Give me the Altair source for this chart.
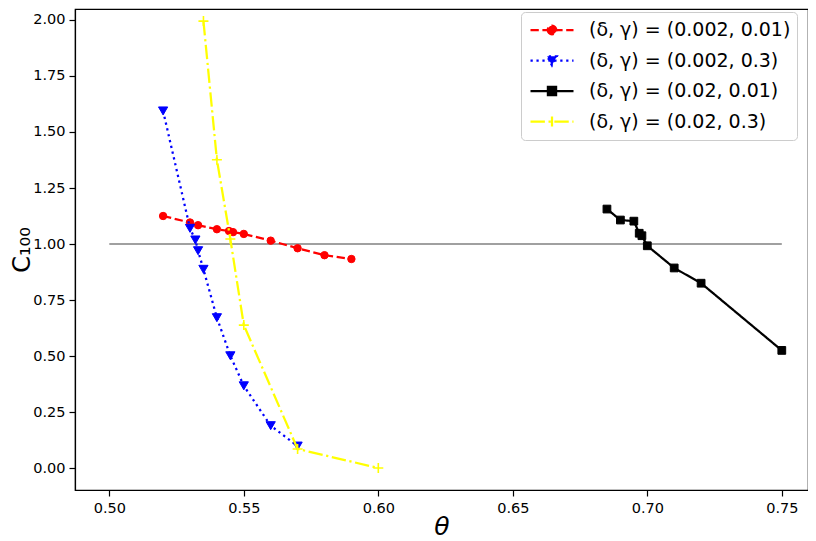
import altair as alt
import pandas as pd

# ---- data ----
labels = ["(δ, γ) = (0.002, 0.01)", "(δ, γ) = (0.002, 0.3)",
          "(δ, γ) = (0.02, 0.01)", "(δ, γ) = (0.02, 0.3)"]
colors = ["#ff0000", "#0000ff", "#000000", "#ffff00"]

red_theta = [0.52, 0.53, 0.533, 0.54, 0.5445, 0.546, 0.55, 0.56, 0.57, 0.58, 0.59]
red_c = [1.125, 1.096, 1.084, 1.066, 1.058, 1.053, 1.045, 1.015, 0.981, 0.950, 0.933]

blue_theta = [0.52, 0.53, 0.532, 0.533, 0.535, 0.54, 0.545, 0.55, 0.56, 0.57]
blue_c = [1.594, 1.070, 1.018, 0.970, 0.887, 0.671, 0.501, 0.367, 0.189, 0.098]

black_theta = [0.685, 0.69, 0.695, 0.697, 0.698, 0.70, 0.71, 0.72, 0.75]
black_c = [1.156, 1.107, 1.102, 1.048, 1.037, 0.992, 0.893, 0.825, 0.525]

yellow_theta = [0.535, 0.54, 0.545, 0.55, 0.57, 0.60]
yellow_c = [1.995, 1.376, 1.022, 0.638, 0.085, 0.0]

ref_theta = [0.50, 0.75]
ref_c = [1.0, 1.0]

x_ticks = [0.50, 0.55, 0.60, 0.65, 0.70, 0.75]
y_ticks = [0.0, 0.25, 0.5, 0.75, 1.0, 1.25, 1.5, 1.75, 2.0]

# ---- tables ----
series_data = [(red_theta, red_c), (blue_theta, blue_c),
               (black_theta, black_c), (yellow_theta, yellow_c)]
rows = []
for lab, (xs, ys) in zip(labels, series_data):
    for i, (xv, yv) in enumerate(zip(xs, ys)):
        rows.append({"series": lab, "theta": xv, "C": yv, "idx": i})
df = pd.DataFrame(rows)
ref_df = pd.DataFrame({"theta": ref_theta, "C": ref_c, "idx": [0, 1]})

# ---- styles ----
lw = 2.25
dashes = [[8.3, 3.6], [2.25, 3.7], [1, 0], [14.4, 3.6, 2.25, 3.6]]
plot_shapes = ["circle", "triangle-down", "square", "M-1,0H1M0,-1V1"]
plot_sizes = [55, 85, 60, 100]
plot_filled = [True, True, True, False]

legend_paths = [
    "M-1,0H1M-0.2,0A0.2,0.2 0 1,0 0.2,0A0.2,0.2 0 1,0 -0.2,0Z",
    "M-1,0H1M0,0.225L-0.225,-0.195L0.225,-0.195Z",
    "M-1,0H1M-0.19,-0.19H0.19V0.19H-0.19Z",
    "M-1,0H1M0,-0.23V0.23",
]

xdom = [0.48725, 0.75974]
ydom = [-0.0982, 2.0491]

xenc = alt.X("theta:Q", scale=alt.Scale(domain=xdom, nice=False, zero=False),
             axis=alt.Axis(values=x_ticks, format=".2f", title="θ",
                           titleFontStyle="italic", titleFontSize=25,
                           labelPadding=5, titlePadding=0))
yenc = alt.Y("C:Q", scale=alt.Scale(domain=ydom, nice=False, zero=False),
             axis=alt.Axis(values=y_ticks, format=".2f", title="C₁₀₀",
                           titleFontSize=24, labelPadding=4, titlePadding=-2))

layers = []
layers.append(
    alt.Chart(ref_df).mark_line(color="#808080", strokeWidth=1.7)
    .encode(x=xenc, y=yenc, order="idx:Q")
)
for k, lab in enumerate(labels):
    base = alt.Chart(df).transform_filter(alt.datum.series == lab)
    layers.append(
        base.mark_line(color=colors[k], strokeWidth=lw, strokeDash=dashes[k])
        .encode(x=xenc, y=yenc, order="idx:Q")
    )
    if plot_filled[k]:
        pm = base.mark_point(shape=plot_shapes[k], size=plot_sizes[k], filled=True,
                             fill=colors[k], stroke=colors[k], strokeWidth=1,
                             opacity=1)
    else:
        pm = base.mark_point(shape=plot_shapes[k], size=plot_sizes[k], filled=False,
                             stroke=colors[k], strokeWidth=1.6, opacity=1)
    layers.append(pm.encode(x=xenc, y=yenc))

# legend layer (invisible marks, legend only)
leg = alt.Legend(title=None, orient="none", legendX=446, legendY=3)
legend_layer = alt.Chart(df).mark_point(opacity=0, filled=True, strokeWidth=lw).encode(
    x=xenc, y=yenc,
    fill=alt.Fill("series:N", scale=alt.Scale(domain=labels, range=colors), legend=leg),
    stroke=alt.Stroke("series:N", scale=alt.Scale(domain=labels, range=colors), legend=leg),
    shape=alt.Shape("series:N", scale=alt.Scale(domain=labels, range=legend_paths), legend=leg),
    strokeDash=alt.StrokeDash("series:N", scale=alt.Scale(domain=labels, range=dashes), legend=leg),
)
layers.append(legend_layer)

chart = alt.layer(*layers).properties(
    width=733, height=481,
    autosize=alt.AutoSizeParams(type="none"),
    padding={"left": 67, "top": 1, "right": 0, "bottom": 50},
).configure_view(
    stroke="black", strokeWidth=1.2
).configure_axis(
    grid=False, domainColor="black", domainWidth=1.2, tickColor="black",
    tickWidth=1.2, tickSize=6, labelFont="DejaVu Sans", labelFontSize=14.5,
    labelColor="black", titleFont="DejaVu Sans", titleColor="black",
    titleFontWeight="normal"
).configure_legend(
    labelFont="DejaVu Sans", labelFontSize=19, labelColor="black", labelLimit=400,
    symbolSize=1849, symbolStrokeWidth=lw, clipHeight=23, rowPadding=7.5,
    padding=6.5, symbolOffset=1.5, labelOffset=14, strokeColor="#cccccc",
    fillColor="white", cornerRadius=4, strokeWidth=1,
    symbolFillColor="white", symbolStrokeColor="white", symbolOpacity=1
)

chart.save("out.html", embed_options={"renderer": "svg", "actions": False})
